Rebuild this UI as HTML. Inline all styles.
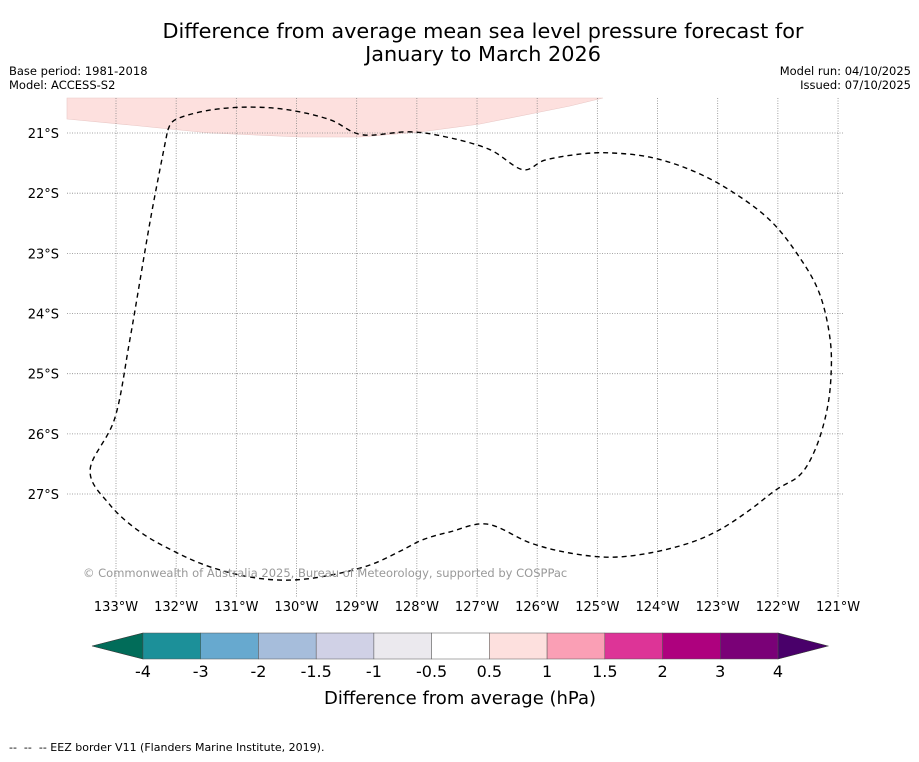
<!DOCTYPE html>
<html><head><meta charset="utf-8"><style>
body{margin:0;background:#fff;width:919px;height:758px;overflow:hidden;font-family:"DejaVu Sans","Liberation Sans",sans-serif;}
svg text{font-family:"DejaVu Sans","Liberation Sans",sans-serif;}
</style></head><body>
<svg id="c" width="919" height="758" xmlns="http://www.w3.org/2000/svg">
<rect width="919" height="758" fill="#fff"/>
<text x="483" y="38" font-size="20.8" text-anchor="middle">Difference from average mean sea level pressure forecast for</text>
<text x="483" y="61" font-size="20.8" text-anchor="middle">January to March 2026</text>
<text x="9" y="75" font-size="11.5">Base period: 1981-2018</text>
<text x="9" y="89" font-size="11.5">Model: ACCESS-S2</text>
<text x="911" y="75" font-size="11.5" text-anchor="end">Model run: 04/10/2025</text>
<text x="911" y="89" font-size="11.5" text-anchor="end">Issued: 07/10/2025</text>
<path d="M67,98 L67,119 L140,126 L210,133 L300,137 L360,137 L420,132 L480,124 L570,106 L603,98 Z" fill="#fde0de" stroke="#e9c8c6" stroke-width="0.6"/>
<g id="grid"></g>
<g id="ticks"></g>
<path id="eez" fill="none" stroke="#000" stroke-width="1.4" stroke-dasharray="5,4"/>
<text x="83" y="577" font-size="11.5" fill="#999">© Commonwealth of Australia 2025, Bureau of Meteorology, supported by COSPPac</text>
<g id="cbar"></g>
<text x="460" y="704" font-size="18" text-anchor="middle">Difference from average (hPa)</text>
<text x="9" y="751" font-size="11" xml:space="preserve" style="white-space:pre">--  --  -- EEZ border V11 (Flanders Marine Institute, 2019).</text>
</svg>
<script>
const lonTicks=[-133,-132,-131,-130,-129,-128,-127,-126,-125,-124,-123,-122,-121];
const latTicks=[-21,-22,-23,-24,-25,-26,-27];
const eezLon=[-132.14,-132.00,-131.44,-130.77,-130.11,-129.44,-128.91,-128.11,-127.45,-126.78,-126.24,-125.87,-125.29,-124.79,-124.13,-123.46,-122.80,-122.13,-121.63,-121.30,-121.13,-121.12,-121.20,-121.38,-121.63,-122.03,-122.46,-122.96,-123.46,-124.13,-124.79,-125.46,-126.12,-126.83,-127.45,-127.90,-128.28,-128.78,-129.44,-130.11,-130.77,-131.44,-132.02,-132.60,-133.10,-133.43,-133.02,-132.77,-132.43,-132.14];
const eezLat=[-20.95,-20.77,-20.62,-20.57,-20.62,-20.78,-21.03,-20.98,-21.08,-21.28,-21.61,-21.45,-21.35,-21.33,-21.40,-21.61,-21.95,-22.45,-23.08,-23.69,-24.44,-25.10,-25.68,-26.26,-26.68,-26.93,-27.26,-27.59,-27.81,-27.98,-28.05,-27.98,-27.81,-27.50,-27.63,-27.76,-27.95,-28.18,-28.35,-28.43,-28.38,-28.21,-27.96,-27.63,-27.18,-26.60,-25.74,-24.44,-22.45,-20.95];
const cbarLabels=["-4","-3","-2","-1.5","-1","-0.5","0.5","1","1.5","2","3","4"];
const cbarColors=["#1c9099","#67a9cf","#a6bddb","#d0d1e6","#ebe9ee","#ffffff","#fde0de","#fa9fb5","#dd3497","#ae017e","#7a0177"];
const NS="http://www.w3.org/2000/svg";
const PX=60.17;
const xS=lon=>116+(lon+133)*PX;
const yS=lat=>133+(-21-lat)*PX;
function mk(t,a,p){const e=document.createElementNS(NS,t);for(const k in a)e.setAttribute(k,a[k]);p.appendChild(e);return e;}
const grid=document.getElementById('grid'),ticks=document.getElementById('ticks');
lonTicks.forEach(l=>{const x=xS(l);
 const g=mk('line',{x1:x,x2:x,y1:98,y2:598,stroke:'#888','stroke-width':0.8,'stroke-dasharray':'1,1.5'},grid);
 
 
 const t=mk('text',{x:x,y:611,'font-size':13,'text-anchor':'middle'},ticks);t.textContent=Math.abs(l)+'°W';
 
 });
latTicks.forEach(l=>{const y=yS(l);
 const g=mk('line',{x1:67,x2:843,y1:y,y2:y,stroke:'#888','stroke-width':0.8,'stroke-dasharray':'1,1.5'},grid);
 
 
 const t=mk('text',{x:59,y:y+5,'font-size':13,'text-anchor':'end'},ticks);t.textContent=Math.abs(l)+'°S';
 
 });
// smoothed path (Catmull-Rom) through EEZ points
const P=eezLon.map((l,i)=>[xS(l),yS(eezLat[i])]);
let d='M'+P[0][0].toFixed(1)+','+P[0][1].toFixed(1);
for(let i=0;i<P.length-1;i++){const p0=P[Math.max(0,i-1)],p1=P[i],p2=P[i+1],p3=P[Math.min(P.length-1,i+2)];
 const c1=[p1[0]+(p2[0]-p0[0])/6,p1[1]+(p2[1]-p0[1])/6],c2=[p2[0]-(p3[0]-p1[0])/6,p2[1]-(p3[1]-p1[1])/6];
 d+=` C${c1[0].toFixed(1)},${c1[1].toFixed(1)} ${c2[0].toFixed(1)},${c2[1].toFixed(1)} ${p2[0].toFixed(1)},${p2[1].toFixed(1)}`;}
document.getElementById('eez').setAttribute('d',d);
const cb=document.getElementById('cbar');
const x0=143,x1=778,w=(x1-x0)/cbarColors.length,y0=633,h=26;
const lt=mk('polygon',{points:`${x0},${y0} ${x0},${y0+h} 92,${y0+h/2}`,fill:'#016c59',stroke:'#333','stroke-width':0.6},cb);


const rt=mk('polygon',{points:`${x1},${y0} ${x1},${y0+h} 828,${y0+h/2}`,fill:'#49006a',stroke:'#333','stroke-width':0.6},cb);


cbarColors.forEach((c,i)=>{const r=mk('rect',{x:x0+i*w,y:y0,width:w,height:h,fill:c,stroke:'#555','stroke-width':0.5},cb);
 
 });
cbarLabels.forEach((s,i)=>{const t=mk('text',{x:x0+i*w,y:677,'font-size':16,'text-anchor':'middle'},cb);t.textContent=s;
 
 });
</script>
</body></html>
